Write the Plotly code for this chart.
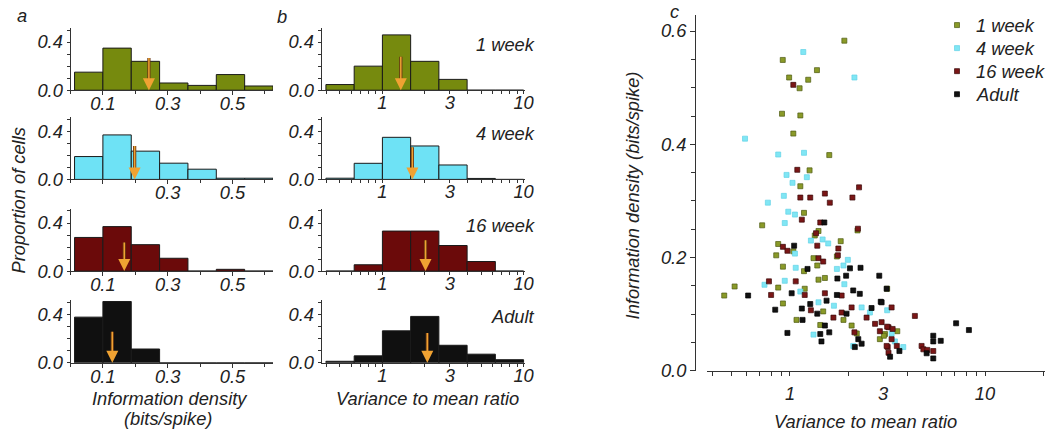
import math
import plotly.graph_objects as go

W, H = 1050, 433          # design (reference) pixel grid
FIG_W, FIG_H = 1060, 444  # figure size (the page is photographed slightly scaled)
FONT = "Liberation Sans, Arial, sans-serif"
TXT = "#222222"
LINE = "#333333"

groups = ["1 week", "4 week", "16 week", "Adult"]
bar_colors = ["#768a0e", "#6ee2f5", "#6b0a0a", "#101010"]
dot_colors = ["#8a9a28", "#80e6f4", "#7a1616", "#111111"]
dot_edges = ["#4e5a12", "#62d2e6", "#3a0a0a", "#000000"]

# ---- panel a: information density histograms (proportion of cells)
info_edges = [0.0125, 0.1, 0.1875, 0.275, 0.3625, 0.45, 0.5375, 0.625]
info_hist = [
    [0.15, 0.35, 0.24, 0.06, 0.04, 0.13, 0.035],
    [0.19, 0.37, 0.235, 0.135, 0.085, 0.01, 0.01],
    [0.28, 0.37, 0.22, 0.107, 0.0, 0.015, 0.0],
    [0.38, 0.51, 0.115, 0.0, 0.0, 0.0, 0.0],
]
info_mean = [0.242, 0.198, 0.166, 0.129]
info_ticks = [0.1, 0.3, 0.5]

# ---- panel b: variance-to-mean ratio histograms (log bins)
ratio_edges = [0.398, 0.631, 1.0, 1.585, 2.512, 3.981, 6.31, 10.0]
ratio_hist = [
    [0.047, 0.2, 0.46, 0.24, 0.09, 0.0, 0.0],
    [0.01, 0.134, 0.35, 0.278, 0.12, 0.008, 0.0],
    [0.0, 0.053, 0.333, 0.333, 0.213, 0.08, 0.0],
    [0.013, 0.058, 0.266, 0.386, 0.146, 0.072, 0.026],
]
ratio_mean = [1.35, 1.63, 2.02, 2.08]
ratio_ticks = [1, 3, 10]

# ---- panel c: scatter of information density vs variance-to-mean ratio
wk1_x = [1.90, 0.918, 1.375, 0.99, 1.24, 1.12, 0.91, 1.13, 1.04, 1.59, 1.26, 1.13, 1.18, 0.72, 2.22,
         1.40, 1.34, 1.82, 0.87, 1.04, 0.85, 1.74, 1.32, 1.38, 0.92, 1.18, 1.51, 0.46, 0.52, 0.87,
         1.19, 0.92, 1.08, 1.40, 1.48, 1.43, 1.88, 2.07, 2.20, 2.89, 3.07, 3.15, 3.55, 3.03]
wk1_y = [0.583, 0.549, 0.531, 0.518, 0.514, 0.499, 0.454, 0.451, 0.419, 0.381, 0.354, 0.326, 0.279, 0.257, 0.248,
         0.247, 0.239, 0.229, 0.224, 0.211, 0.204, 0.202, 0.199, 0.186, 0.184, 0.176, 0.164, 0.133, 0.149, 0.147,
         0.145, 0.119, 0.090, 0.161, 0.105, 0.081, 0.090, 0.080, 0.066, 0.056, 0.065, 0.145, 0.070, 0.062]
wk4_x = [1.17, 2.14, 0.588, 0.87, 1.18, 0.96, 1.22, 1.03, 0.93, 0.77, 0.98, 1.06, 0.94, 1.28, 1.47,
         1.57, 1.06, 1.98, 1.88, 1.07, 1.74, 0.74, 0.94, 1.13, 1.40, 1.68, 1.32, 1.90, 2.33, 2.57,
         2.11, 3.15, 3.32, 3.45, 3.81]
wk4_y = [0.563, 0.518, 0.410, 0.382, 0.385, 0.346, 0.342, 0.332, 0.309, 0.297, 0.281, 0.276, 0.261, 0.230, 0.232,
         0.225, 0.207, 0.196, 0.186, 0.182, 0.180, 0.152, 0.159, 0.140, 0.121, 0.115, 0.064, 0.153, 0.112, 0.103,
         0.044, 0.107, 0.066, 0.052, 0.042]
wk16_x = [1.04, 1.09, 2.26, 1.51, 1.13, 1.27, 2.09, 1.60, 1.15, 1.43, 2.23, 1.36, 0.92, 1.38, 0.97, 1.77,
          1.76, 1.40, 1.48, 0.78, 0.80, 1.07, 1.19, 1.28, 1.51, 1.67, 1.84, 2.07, 1.84, 2.47, 2.73, 2.89,
          2.14, 3.17, 3.2, 3.2, 3.32, 4.37, 2.95, 3.15, 3.36, 3.32, 3.53, 3.13, 4.73, 4.83, 5.06, 5.43]
wk16_y = [0.505, 0.355, 0.324, 0.313, 0.306, 0.306, 0.306, 0.297, 0.267, 0.262, 0.251, 0.243, 0.219, 0.221, 0.212, 0.216,
          0.204, 0.199, 0.193, 0.158, 0.134, 0.158, 0.134, 0.107, 0.137, 0.094, 0.103, 0.112, 0.133, 0.094, 0.083, 0.070,
          0.068, 0.042, 0.032, 0.077, 0.112, 0.097, 0.086, 0.078, 0.074, 0.056, 0.044, 0.044, 0.044, 0.038, 0.037, 0.035]
adult_x = [1.05, 1.50, 1.23, 2.03, 2.30, 2.87, 1.75, 1.94, 0.61, 1.02, 0.84, 1.15, 1.16, 0.97, 1.27, 1.38,
           1.54, 1.74, 1.51, 1.43, 1.59, 1.45, 1.95, 2.11, 2.28, 2.62, 2.92, 2.24, 2.15, 2.33, 3.13, 2.95,
           7.11, 8.27, 3.64, 3.26, 5.43, 5.43, 5.93, 5.02, 5.43]
adult_y = [0.221, 0.262, 0.180, 0.181, 0.182, 0.168, 0.163, 0.168, 0.133, 0.137, 0.108, 0.110, 0.090, 0.067, 0.118, 0.101,
           0.124, 0.134, 0.080, 0.065, 0.068, 0.052, 0.101, 0.142, 0.136, 0.111, 0.122, 0.056, 0.042, 0.048, 0.145, 0.121,
           0.084, 0.072, 0.035, 0.025, 0.062, 0.052, 0.053, 0.031, 0.022]
scatter_x = [wk1_x, wk4_x, wk16_x, adult_x]
scatter_y = [wk1_y, wk4_y, wk16_y, adult_y]
c_yticks = [0.0, 0.2, 0.4, 0.6]
c_xticks = [1, 3, 10]

# ------------------------------------------------------------------ layout helpers
def xd(p0, p1):
    return [p0 / W, p1 / W]

def yd(top, bottom):
    return [1 - bottom / H, 1 - top / H]

tf = dict(family=FONT, size=18.3, color=TXT, style="italic")

def base_axis(**kw):
    d = dict(showgrid=False, zeroline=False, showline=True, linecolor=LINE, linewidth=1,
             ticks="outside", tickcolor=LINE, ticklen=4, tickwidth=1, tickfont=tf)
    d.update(kw)
    return d

fig = go.Figure()
layout = dict(width=FIG_W, height=FIG_H, margin=dict(l=0, r=0, t=0, b=0),
              paper_bgcolor="white", plot_bgcolor="white", showlegend=False)
annotations = []
shapes = []

baselines = [90, 179, 270.5, 362]
ROWH = 62.4
A_X = (70.5, 273)
B_X = (321.7, 525)

minor_logs = [0.4, 0.5, 0.6, 0.7, 0.8, 0.9, 1, 2, 3, 4, 5, 6, 7, 8, 9, 10]

def add_arrow(xr, yr, x, ytail):
    annotations.append(dict(xref=xr, yref=yr, axref=xr, ayref=yr, x=x, y=0.045, ax=x, ay=ytail,
                            text="", showarrow=True, arrowhead=0, arrowwidth=3.2,
                            arrowcolor="#6a3812"))
    annotations.append(dict(xref=xr, yref=yr, axref=xr, ayref=yr, x=x, y=0.0, ax=x, ay=ytail,
                            text="", showarrow=True, arrowhead=2, arrowsize=1.6, arrowwidth=1.5,
                            arrowcolor="#f0a232", standoff=0))

arrow_a = [0.28, 0.29, 0.25, 0.27]
arrow_b = [0.29, 0.28, 0.27, 0.26]

for i in range(4):
    top = baselines[i] - ROWH
    ia, ib = 2 * i + 1, 2 * i + 2
    cen = [(info_edges[k] + info_edges[k + 1]) / 2 for k in range(7)]
    wid = [info_edges[k + 1] - info_edges[k] for k in range(7)]
    fig.add_trace(go.Bar(x=cen, y=info_hist[i], width=wid, marker=dict(color=bar_colors[i],
                         line=dict(color="#1a1a1a", width=1)), xaxis=f"x{ia}", yaxis=f"y{ia}",
                         showlegend=False, hoverinfo="skip"))
    lo = [math.log10(e) for e in ratio_edges]
    cenb = [(lo[k] + lo[k + 1]) / 2 for k in range(7)]
    widb = [lo[k + 1] - lo[k] for k in range(7)]
    fig.add_trace(go.Bar(x=cenb, y=ratio_hist[i], width=widb, marker=dict(color=bar_colors[i],
                         line=dict(color="#1a1a1a", width=1)), xaxis=f"x{ib}", yaxis=f"y{ib}",
                         showlegend=False, hoverinfo="skip"))
    a_text = [f"{v:.1f}" for v in info_ticks]
    if i == 1:
        a_text[0] = ""
    layout[f"xaxis{ia}"] = base_axis(domain=xd(*A_X), range=[0, 0.625], anchor=f"y{ia}",
                                     tickmode="array", tickvals=info_ticks, ticktext=a_text,
                                     minor=dict(dtick=0.1, tick0=0, ticks="outside", ticklen=3,
                                                tickcolor=LINE),
                                     ticklabelstandoff=-7)
    layout[f"yaxis{ia}"] = base_axis(domain=yd(top, baselines[i]), range=[0, 0.52], anchor=f"x{ia}",
                                     tickmode="array", tickvals=[0, 0.4], ticktext=["0.0", "0.4"],
                                     ticklen=3,
                                     minor=dict(dtick=0.1, tick0=0, ticks="outside", ticklen=3,
                                                tickcolor=LINE))
    b_vals = [math.log10(v) for v in minor_logs]
    b_text = [str(v) if v in ratio_ticks else "" for v in minor_logs]
    layout[f"xaxis{ib}"] = base_axis(domain=xd(*B_X), range=[-0.43, 1.01], anchor=f"y{ib}",
                                     tickmode="array", tickvals=b_vals, ticktext=b_text, ticklen=3,
                                     ticklabelstandoff=-7)
    layout[f"yaxis{ib}"] = base_axis(domain=yd(top, baselines[i]), range=[0, 0.52], anchor=f"x{ib}",
                                     tickmode="array", tickvals=[0, 0.4], ticktext=["0.0", "0.4"],
                                     ticklen=3,
                                     minor=dict(dtick=0.1, tick0=0, ticks="outside", ticklen=3,
                                                tickcolor=LINE))
    add_arrow(f"x{ia}", f"y{ia}", info_mean[i], arrow_a[i])
    add_arrow(f"x{ib}", f"y{ib}", math.log10(ratio_mean[i]), arrow_b[i])
    annotations.append(dict(xref="paper", yref="paper", x=537 / W, y=1 - (baselines[i] - 46) / H,
                            xanchor="right", yanchor="middle", text=groups[i], showarrow=False,
                            font=tf))

# panel c scatter
for i in range(4):
    fig.add_trace(go.Scatter(x=scatter_x[i], y=scatter_y[i], mode="markers", name=groups[i],
                             marker=dict(symbol="square", size=5, color=dot_colors[i],
                                         line=dict(color=dot_edges[i], width=0.7)),
                             xaxis="x9", yaxis="y9", hoverinfo="skip", showlegend=False))

c_minor = [0.4, 0.5, 0.6, 0.7, 0.8, 0.9, 1, 2, 3, 4, 5, 6, 7, 8, 9, 10, 20]
layout["xaxis9"] = base_axis(domain=xd(707, 1045), type="log", range=[-0.4256, 1.3077], anchor="y9",
                             tickmode="array", tickvals=c_minor,
                             ticktext=[str(v) if v in c_xticks else "" for v in c_minor],
                             ticklabelstandoff=2)
layout["yaxis9"] = base_axis(domain=yd(15, 370), range=[0, 0.6283], anchor="free", position=695 / W,
                             tickmode="array", tickvals=c_yticks, ticktext=[f"{v:.1f}" for v in c_yticks],
                             ticklen=5,
                             minor=dict(dtick=0.05, tick0=0, ticks="outside", ticklen=4, tickcolor=LINE))

# legend for panel c (small squares + italic labels)
legend_y = [25, 48, 71, 94]
for i in range(4):
    cx, cy = 957, legend_y[i]
    shapes.append(dict(type="rect", xref="paper", yref="paper",
                       x0=(cx - 2.5) / W, x1=(cx + 2.5) / W, y0=1 - (cy + 2.5) / H, y1=1 - (cy - 2.5) / H,
                       fillcolor=dot_colors[i], line=dict(color=dot_edges[i], width=0.7)))
    annotations.append(dict(xref="paper", yref="paper", x=974 / W, y=1 - cy / H, xanchor="left",
                            yanchor="middle", text=groups[i], showarrow=False, font=tf))

def label(x, y, text, angle=0):
    annotations.append(dict(xref="paper", yref="paper", x=x / W, y=1 - y / H, xanchor="center",
                            yanchor="middle", text=text, showarrow=False, textangle=angle, font=tf))

label(22, 15, "a")
label(282, 16, "b")
label(674, 11, "c")
label(18, 200, "Proportion of cells", -90)
label(170, 398, "Information density")
label(168, 418, "(bits/spike)")
label(427, 398, "Variance to mean ratio")
label(865, 421, "Variance to mean ratio")
label(632, 195, "Information density (bits/spike)", -90)

layout["annotations"] = annotations
layout["shapes"] = shapes
fig.update_layout(**layout)
fig.write_html("out.html", config={"displayModeBar": False},
               post_script="document.body.style.margin='0';document.body.style.overflow='hidden';")
